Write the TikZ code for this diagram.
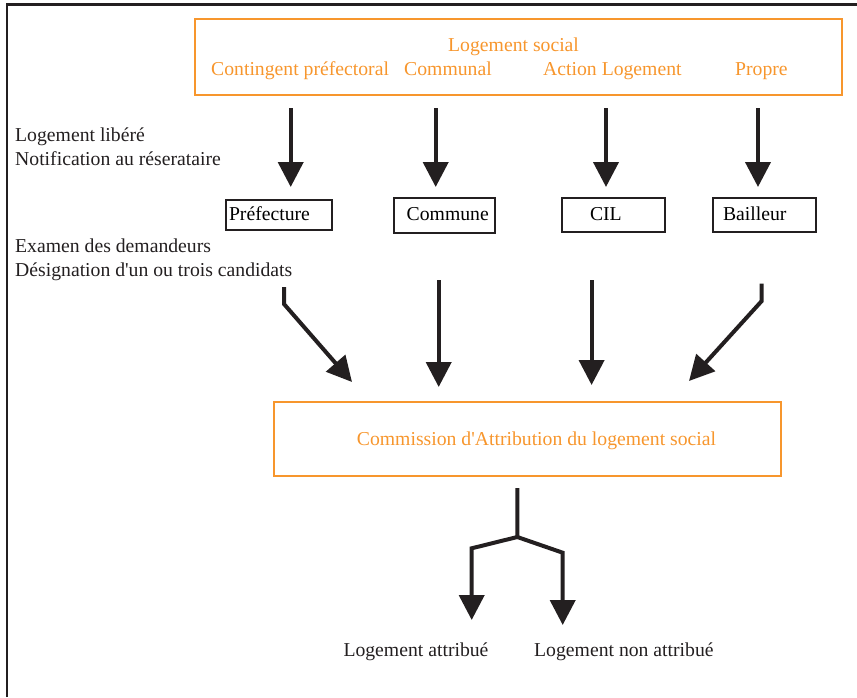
\documentclass[tikz,border=0pt]{standalone}
\usepackage{fontspec}
\setmainfont{Liberation Serif}[Ligatures=TeXOff]
\usetikzlibrary{arrows.meta}
\definecolor{orng}{RGB}{247,150,45}
\definecolor{ink}{RGB}{35,31,32}
\begin{document}
\begin{tikzpicture}[x=1pt,y=-1pt,
  every node/.style={font=\fontsize{19.7}{24}\selectfont},
  txt/.style={inner sep=0pt, anchor=base west, text=ink},
  otxt/.style={inner sep=0pt, anchor=base west, text=orng},
  obox/.style={draw=orng, line width=1.8pt, inner sep=0pt},
  sbox/.style={draw=ink, line width=1.8pt, align=left, inner ysep=0pt, text height=14pt, text depth=4pt},
  arr/.style={draw=ink, line width=4pt, line join=miter, -{Triangle[length=25pt,width=25pt]}}]
\useasboundingbox (0,0) rectangle (857,697);
% outer frame
\draw[ink, line width=3pt] (6,4.5) -- (857,4.5);
\draw[ink, line width=2pt] (7,697) -- (7,3);

% top box
\node[obox, minimum width=647pt, minimum height=76pt] (topbox) at (518.5,57) {};
\node[otxt] (ls) at (448,51.7) {Logement social};
\node[otxt] (cp) at (211,75) {Contingent préfectoral};
\node[otxt] (cm) at (404,75) {Communal};
\node[otxt] (al) at (543,75) {Action Logement};
\node[otxt] (pr) at (735,75) {Propre};

% left texts
\node[txt] (l1) at (15,141.7) {Logement libéré};
\node[txt] (l2) at (15,165.7) {Notification au réserataire};
\node[txt] (l3) at (15,252.7) {Examen des demandeurs};
\node[txt] (l4) at (15,276.7) {Désignation d'un ou trois candidats};

% small boxes
\node[sbox, inner xsep=3pt, text width=100pt, minimum height=30pt] (pref) at (279,215) {Préfecture};
\node[sbox, inner xsep=12.7pt, text width=75.6pt, minimum height=35pt] (comm) at (444.5,215.5) {Commune};
\node[sbox, inner xsep=28pt, text width=47pt, minimum height=34pt] (cil) at (613.5,215) {CIL};
\node[sbox, inner xsep=10pt, text width=83pt, minimum height=34pt] (bail) at (764.5,215) {Bailleur};

% top arrows
\coordinate (a1s) at (290.7,108); \coordinate (a1e) at (290.7,187);
\coordinate (a2s) at (435.7,108); \coordinate (a2e) at (435.7,187);
\coordinate (a3s) at (606,108);   \coordinate (a3e) at (606,187);
\coordinate (a4s) at (758,108);   \coordinate (a4e) at (758,187);
\draw[arr] (a1s) -- (a1e);
\draw[arr] (a2s) -- (a2e);
\draw[arr] (a3s) -- (a3e);
\draw[arr] (a4s) -- (a4e);

% middle arrows
\coordinate (b1s) at (284,287); \coordinate (b1m) at (284,304); \coordinate (b1e) at (352,382);
\coordinate (b2s) at (438.7,280); \coordinate (b2e) at (438.7,387);
\coordinate (b3s) at (591.6,280); \coordinate (b3e) at (591.6,385);
\coordinate (b4s) at (761.7,283.7); \coordinate (b4m) at (761.7,301); \coordinate (b4e) at (689,381);
\draw[arr] (b1s) -- (b1m) -- (b1e);
\draw[arr] (b2s) -- (b2e);
\draw[arr] (b3s) -- (b3e);
\draw[arr] (b4s) -- (b4m) -- (b4e);

% commission box
\node[obox, minimum width=507pt, minimum height=74pt] (cab) at (527.5,438.7) {};
\node[otxt] (cabt) at (356.7,445) {Commission d'Attribution du logement social};

% bottom branch
\coordinate (c0) at (517.3,488);
\coordinate (cj) at (517.3,537);
\coordinate (cl) at (471.7,548.3);
\coordinate (clt) at (471.7,620);
\coordinate (cr) at (562.7,552.7);
\coordinate (crt) at (562.7,625);
\draw[arr] (c0) -- (cj) -- (cl) -- (clt);
\draw[arr] (cj) -- (cr) -- (crt);

\node[txt] (la) at (343.3,656.7) {Logement attribué};
\node[txt] (lna) at (534,656.7) {Logement non attribué};
\end{tikzpicture}
\end{document}
